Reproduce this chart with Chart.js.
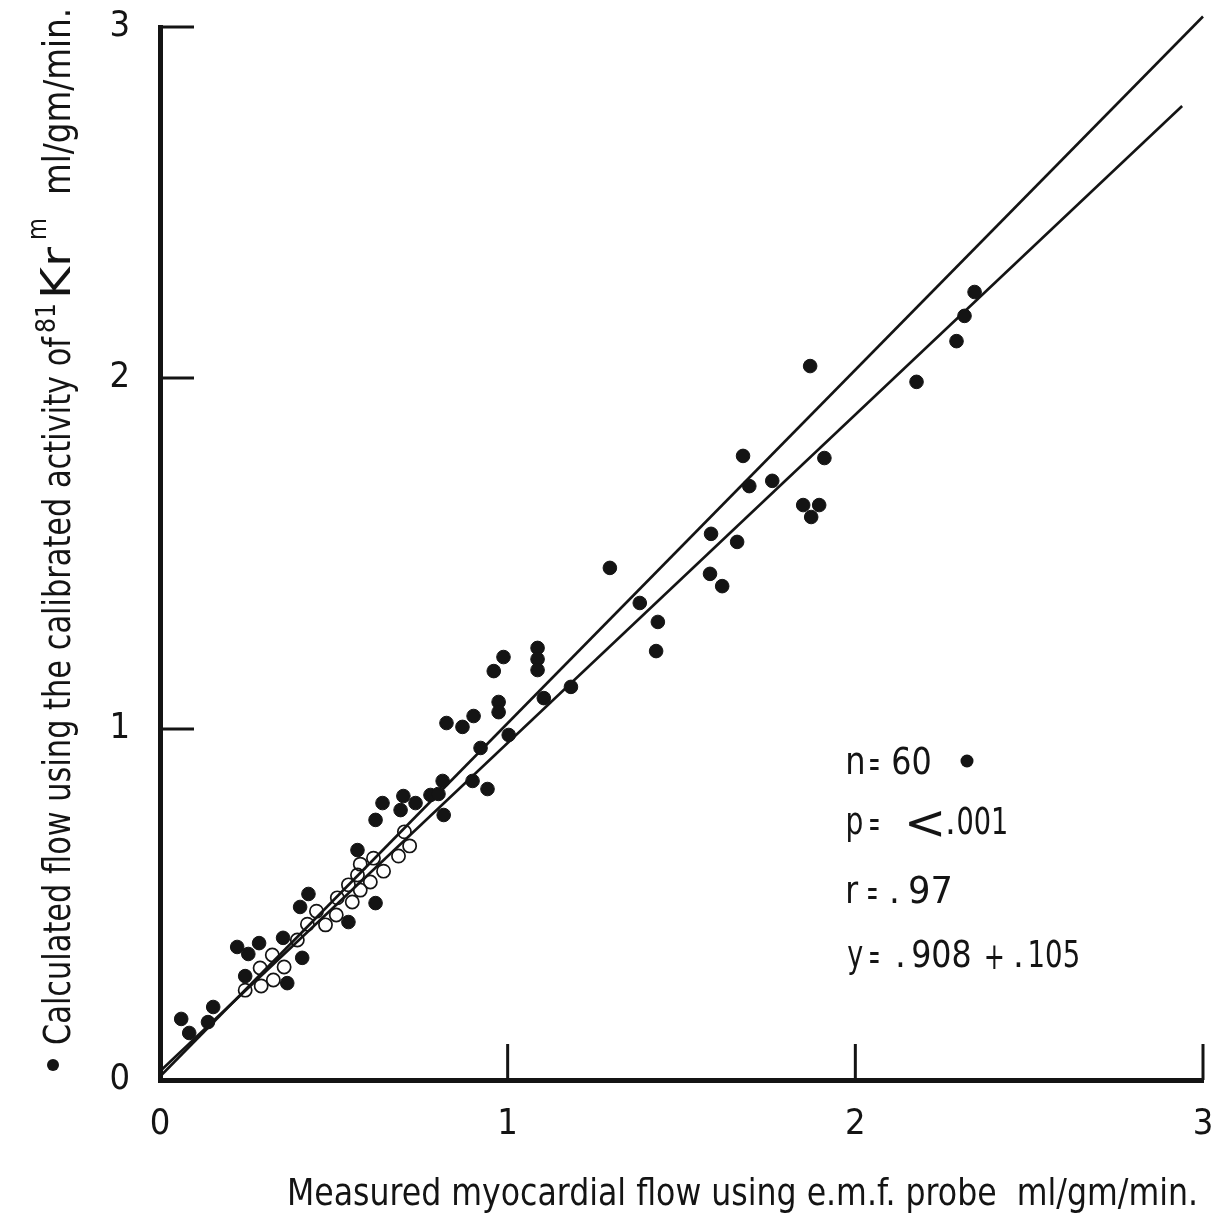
<!DOCTYPE html>
<html>
<head>
<meta charset="utf-8">
<script src="https://cdn.jsdelivr.net/npm/chart.js@4.4.1/dist/chart.umd.min.js"></script>
<style>
  html, body { margin: 0; padding: 0; background: #fff; }
  #wrap { width: 1225px; height: 1219px; }
</style>
</head>
<body>
<div id="wrap"><canvas id="chart" width="1225" height="1219"></canvas></div>
<script>
'use strict';

// axis ticks
let xTicks = [0, 1, 2, 3];
let yTicks = [0, 1, 2, 3];

// filled circles: measured (x) vs calculated (y) flow
let solidX = [2.176, 1.870, 2.291, 2.314, 2.343, 1.911, 1.761, 1.850, 1.896, 1.873,
  1.677, 1.695, 1.585, 1.660, 1.294, 1.582, 1.617, 1.380, 1.432, 1.427,
  1.086, 1.086, 1.086, 1.182, 1.104, 0.988, 0.960, 0.974, 0.974, 0.902,
  0.870, 0.824, 1.003, 0.922, 0.640, 0.620, 0.700, 0.692, 0.735, 0.778,
  0.801, 0.813, 0.816, 0.899, 0.942, 0.568, 0.620, 0.427, 0.403, 0.542,
  0.222, 0.254, 0.285, 0.354, 0.409, 0.245, 0.366, 0.061, 0.084, 0.153, 0.138];
let solidY = [1.989, 2.034, 2.105, 2.177, 2.245, 1.772, 1.707, 1.638, 1.638, 1.604,
  1.778, 1.692, 1.556, 1.533, 1.459, 1.442, 1.407, 1.359, 1.305, 1.222,
  1.231, 1.199, 1.168, 1.120, 1.088, 1.205, 1.165, 1.077, 1.048, 1.037,
  1.006, 1.017, 0.983, 0.946, 0.789, 0.741, 0.809, 0.769, 0.789, 0.812,
  0.815, 0.852, 0.755, 0.852, 0.829, 0.655, 0.504, 0.530, 0.493, 0.450,
  0.379, 0.359, 0.390, 0.405, 0.348, 0.296, 0.276, 0.174, 0.134, 0.208, 0.165];

// open circles
let openX = [0.245, 0.291, 0.326, 0.288, 0.357, 0.323, 0.395, 0.424, 0.476, 0.450,
  0.507, 0.510, 0.553, 0.542, 0.576, 0.568, 0.605, 0.576, 0.614, 0.643,
  0.686, 0.718, 0.703];
let openY = [0.256, 0.268, 0.285, 0.319, 0.322, 0.356, 0.399, 0.444, 0.442, 0.481,
  0.470, 0.519, 0.507, 0.556, 0.541, 0.584, 0.564, 0.615, 0.632, 0.595,
  0.638, 0.667, 0.707];

// regression lines, end points
let lineAX = [0, 3.0];
let lineAY = [0.01, 3.03];
let lineBX = [0, 2.94];
let lineBY = [0.025, 2.775];

// text printed in the plot
let statN = ['n', '=', '60'];
let statP = ['p', '=', '<', '.', '001'];
let statR = ['r', '=', '.', '97'];
let statY = ['y', '=', '.', '908', '+', '.', '105'];
let xTitle = 'Measured myocardial flow using e.m.f. probe  ml/gm/min.';
let yTitleParts = ['Calculated flow using the calibrated activity of', '81', 'Kr', 'm', 'ml/gm/min.'];

const INK = '#141414';
const FONT = '"DejaVu Sans Condensed", "DejaVu Sans", sans-serif';

function toPoints(xs, ys) {
  let pts = [];
  for (let i = 0; i < xs.length; i++) {
    pts.push({ x: xs[i], y: ys[i] });
  }
  return pts;
}

// text starting at x, squeezed to the given advance width
function fitText(ctx, text, x, y, size, width) {
  ctx.save();
  ctx.font = size + 'px ' + FONT;
  ctx.textBaseline = 'alphabetic';
  ctx.textAlign = 'left';
  let w = ctx.measureText(text).width;
  ctx.translate(x, y);
  ctx.scale(width / w, 1);
  ctx.fillText(text, 0, 0);
  ctx.restore();
}

// text whose ink runs from left to right, on a baseline
function inkText(ctx, text, left, right, y, size) {
  ctx.save();
  ctx.font = size + 'px ' + FONT;
  ctx.textBaseline = 'alphabetic';
  ctx.textAlign = 'left';
  let m = ctx.measureText(text);
  let inkW = m.actualBoundingBoxRight + m.actualBoundingBoxLeft;
  ctx.translate(left, y);
  ctx.scale((right - left) / inkW, 1);
  ctx.fillText(text, m.actualBoundingBoxLeft, 0);
  ctx.restore();
}

// text whose ink fills a box
function boxText(ctx, text, left, top, right, bottom, size) {
  ctx.save();
  ctx.font = size + 'px ' + FONT;
  ctx.textBaseline = 'alphabetic';
  ctx.textAlign = 'left';
  let m = ctx.measureText(text);
  let inkW = m.actualBoundingBoxRight + m.actualBoundingBoxLeft;
  let inkH = m.actualBoundingBoxAscent + m.actualBoundingBoxDescent;
  ctx.translate(left, top);
  ctx.scale((right - left) / inkW, (bottom - top) / inkH);
  ctx.fillText(text, m.actualBoundingBoxLeft, m.actualBoundingBoxAscent);
  ctx.restore();
}

const decor = {
  id: 'decor',
  afterDraw(chart) {
    let ctx = chart.ctx;
    let xs = chart.scales.x;
    let ys = chart.scales.y;
    let area = chart.chartArea;
    ctx.save();
    ctx.strokeStyle = INK;
    ctx.fillStyle = INK;
    ctx.lineWidth = 3;

    // tick marks point into the plot
    for (let i = 1; i < yTicks.length; i++) {
      let py = ys.getPixelForValue(yTicks[i]);
      ctx.beginPath();
      ctx.moveTo(area.left, py);
      ctx.lineTo(area.left + 34, py);
      ctx.stroke();
    }
    for (let i = 1; i < xTicks.length; i++) {
      let px = xs.getPixelForValue(xTicks[i]);
      ctx.beginPath();
      ctx.moveTo(px, area.bottom);
      ctx.lineTo(px, area.bottom - 36);
      ctx.stroke();
    }

    // statistics block
    inkText(ctx, statN[0], 848, 863, 774, 38);
    inkText(ctx, statN[1], 870, 879, 776, 38);
    inkText(ctx, statN[2], 893, 930, 774, 38);
    ctx.beginPath();
    ctx.arc(967, 761, 6.5, 0, Math.PI * 2);
    ctx.fill();

    inkText(ctx, statP[0], 848, 862, 834, 38);
    inkText(ctx, statP[1], 870, 879, 836, 38);
    boxText(ctx, statP[2], 908, 810, 942, 838, 40);
    inkText(ctx, statP[3], 948, 953, 834, 38);
    inkText(ctx, statP[4], 958, 1006, 834, 38);

    inkText(ctx, statR[0], 848, 859, 903, 38);
    inkText(ctx, statR[1], 868, 877, 905, 38);
    inkText(ctx, statR[2], 892, 897, 903, 38);
    inkText(ctx, statR[3], 910, 950, 903, 38);

    inkText(ctx, statY[0], 848, 863, 967, 38);
    inkText(ctx, statY[1], 870, 879, 969, 38);
    inkText(ctx, statY[2], 898, 903, 967, 38);
    inkText(ctx, statY[3], 913, 970, 967, 38);
    inkText(ctx, statY[4], 986, 1003, 969, 38);
    inkText(ctx, statY[5], 1016, 1021, 967, 38);
    inkText(ctx, statY[6], 1030, 1078, 967, 38);

    // x title
    fitText(ctx, xTitle, 287, 1205, 38, 911);

    // y title, reading upwards
    ctx.save();
    ctx.translate(70, 1075);
    ctx.rotate(-Math.PI / 2);
    ctx.beginPath();
    ctx.arc(10, -17, 6, 0, Math.PI * 2);
    ctx.fill();
    fitText(ctx, yTitleParts[0], 30, 0, 37, 708);
    fitText(ctx, yTitleParts[1], 742, -15, 26, 30);
    fitText(ctx, yTitleParts[2], 776, 0, 40, 52);
    fitText(ctx, yTitleParts[3], 835, -24, 26, 22);
    fitText(ctx, yTitleParts[4], 880, 0, 37, 187);
    ctx.restore();

    ctx.restore();
  }
};

let canvasElem = document.getElementById('chart');

let chartObj = {
  type: 'scatter',
  data: {
    datasets: [
      {
        label: 'filled',
        data: toPoints(solidX, solidY),
        pointRadius: 6.8,
        pointBorderWidth: 1,
        backgroundColor: INK,
        borderColor: INK
      },
      {
        label: 'open',
        data: toPoints(openX, openY),
        pointRadius: 6.6,
        pointBorderWidth: 1.7,
        backgroundColor: 'rgba(255,255,255,0)',
        borderColor: INK
      },
      {
        label: 'line A',
        data: toPoints(lineAX, lineAY),
        showLine: true,
        pointRadius: 0,
        borderWidth: 2.6,
        borderColor: INK,
        clip: false
      },
      {
        label: 'line B',
        data: toPoints(lineBX, lineBY),
        showLine: true,
        pointRadius: 0,
        borderWidth: 2.6,
        borderColor: INK,
        clip: false
      }
    ]
  },
  options: {
    responsive: false,
    animation: false,
    events: [],
    layout: { padding: { left: 0, top: 27, right: 22, bottom: 0 } },
    plugins: {
      legend: { display: false },
      tooltip: { enabled: false }
    },
    scales: {
      x: {
        type: 'linear',
        min: 0,
        max: 3,
        grid: { display: false },
        border: { display: true, color: INK, width: 5 },
        afterBuildTicks: function(axis) {
          axis.ticks = xTicks.map(v => ({ value: v }));
        },
        afterFit: function(axis) {
          axis.height = 139;
          axis.paddingLeft = 0;
          axis.paddingRight = 0;
        },
        ticks: {
          color: INK,
          padding: 15,
          font: { family: FONT, size: 36 }
        }
      },
      y: {
        type: 'linear',
        min: 0,
        max: 3,
        grid: { display: false },
        border: { display: true, color: INK, width: 5 },
        afterBuildTicks: function(axis) {
          axis.ticks = yTicks.map(v => ({ value: v }));
        },
        afterFit: function(axis) {
          axis.width = 160;
          axis.paddingTop = 0;
          axis.paddingBottom = 0;
        },
        ticks: {
          color: INK,
          padding: 22,
          font: { family: FONT, size: 36 }
        }
      }
    }
  },
  plugins: [decor]
};

new Chart(canvasElem, chartObj);
</script>
</body>
</html>
